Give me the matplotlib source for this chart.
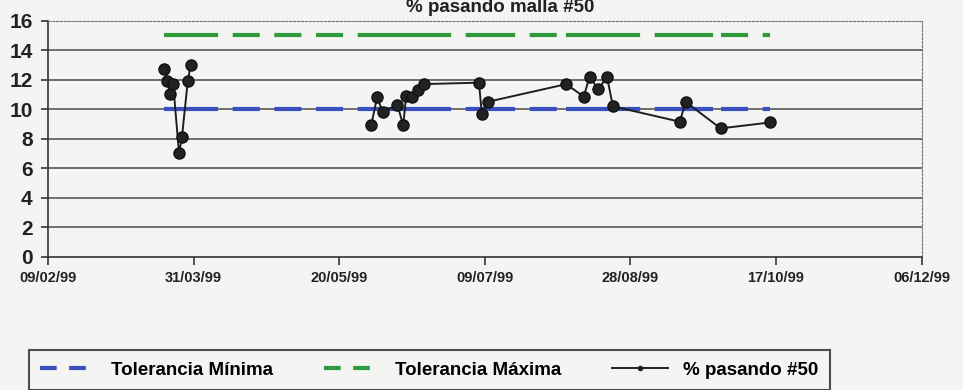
import matplotlib
matplotlib.use("Agg")
import matplotlib.pyplot as plt
import matplotlib.dates as mdates
from matplotlib.lines import Line2D
import datetime as dt

# ---- data ----
dates_str = ["1999-03-21", "1999-03-22", "1999-03-23", "1999-03-24", "1999-03-26",
             "1999-03-27", "1999-03-29", "1999-03-30",
             "1999-05-31", "1999-06-02", "1999-06-04", "1999-06-09", "1999-06-11",
             "1999-06-12", "1999-06-14", "1999-06-16", "1999-06-18",
             "1999-07-07", "1999-07-08", "1999-07-10",
             "1999-08-06", "1999-08-12", "1999-08-14", "1999-08-17", "1999-08-20",
             "1999-08-22", "1999-09-14", "1999-09-16", "1999-09-28", "1999-10-15"]
pasando = [12.7, 11.9, 11.0, 11.7, 7.0, 8.1, 11.9, 13.0,
           8.9, 10.8, 9.8, 10.3, 8.9, 10.9, 10.8, 11.3, 11.7,
           11.8, 9.7, 10.5,
           11.7, 10.85, 12.2, 11.35, 12.2, 10.2, 9.15, 10.5, 8.7, 9.1]
tol_min = [10] * len(dates_str)
tol_max = [15] * len(dates_str)
# index where the measured series is interrupted (no line across the gap)
series_break = 8
title = "% pasando malla #50"
legend_labels = ["Tolerancia Mínima", "Tolerancia Máxima", "% pasando #50"]
x_start, x_end = "1999-02-09", "1999-12-06"

dates = [dt.datetime.strptime(s, "%Y-%m-%d") for s in dates_str]
xs = dt.datetime.strptime(x_start, "%Y-%m-%d")
xe = dt.datetime.strptime(x_end, "%Y-%m-%d")

W, H = 963, 390
bg = "#f4f4f2"
fig = plt.figure(figsize=(W / 100, H / 100), dpi=100, facecolor=bg)
L, R, T, B = 48, 921.5, 20.7, 256.7
ax = fig.add_axes([L / W, 1 - B / H, (R - L) / W, (B - T) / H], facecolor=bg)

font = "Liberation Sans"

# tolerance lines drawn segment by segment (dash pattern restarts at each point)
for i in range(len(dates) - 1):
    ax.plot(dates[i:i + 2], tol_min[i:i + 2], color="#3a4fc0", lw=3,
            dashes=(6.5, 3.5), solid_capstyle="butt", dash_capstyle="butt", zorder=2)
    ax.plot(dates[i:i + 2], tol_max[i:i + 2], color="#2f9a3c", lw=3,
            dashes=(6.5, 3.5), solid_capstyle="butt", dash_capstyle="butt", zorder=2)

for a, b in [(0, series_break), (series_break, len(dates))]:
    ax.plot(dates[a:b], pasando[a:b], color="#1e1e1e", lw=1.4, marker="o", ms=8,
            mfc="#222222", mec="#111111", zorder=3)

ax.set_xlim(xs, xe)
ax.set_ylim(0, 16)
ax.set_yticks(range(0, 17, 2))
ticks = [xs + dt.timedelta(days=50 * k) for k in range(7)]
ax.set_xticks(ticks)
ax.xaxis.set_major_formatter(mdates.DateFormatter("%d/%m/%y"))

for y in range(2, 16, 2):
    ax.axhline(y, color="#4a4a4a", lw=1.1, zorder=1)

for s in ["top", "right"]:
    ax.spines[s].set_linestyle((0, (2, 1.5)))
    ax.spines[s].set_color("#777777")
    ax.spines[s].set_linewidth(0.8)
for s in ["left", "bottom"]:
    ax.spines[s].set_color("#333333")
    ax.spines[s].set_linewidth(1.2)

ax.tick_params(axis="y", direction="out", length=5, width=1.2, color="#333333", pad=6)
ax.tick_params(axis="x", direction="out", length=6, width=1.2, color="#333333", pad=4)
for lab in ax.get_yticklabels():
    lab.set_fontfamily(font)
    lab.set_fontweight("bold")
    lab.set_fontsize(15)
    lab.set_color("#222222")
for lab in ax.get_xticklabels():
    lab.set_fontfamily(font)
    lab.set_fontweight("bold")
    lab.set_fontsize(10.5)
    lab.set_color("#222222")

fig.text(500 / W, 1 - 8 / H, title, ha="center", va="center", fontsize=13.5,
         fontweight="bold", family=font, color="#222222")

handles = [
    Line2D([], [], color="#3a4fc0", lw=3, dashes=(4, 3)),
    Line2D([], [], color="#2f9a3c", lw=3, dashes=(4, 3)),
    Line2D([], [], color="#222222", lw=1.4, marker="o", ms=3),
]
leg = fig.legend(handles, legend_labels, ncol=3, loc="center",
                 bbox_to_anchor=(429 / W, 1 - 370 / H),
                 frameon=True, fancybox=False, edgecolor="#222222",
                 facecolor=bg, handlelength=3, columnspacing=2.7, borderpad=0.6,
                 prop={"family": ["Liberation Sans Narrow", "Liberation Sans"],
                       "weight": "bold", "size": 13.5})
leg.get_frame().set_linewidth(1.5)

fig.savefig("out.png", dpi=100, facecolor=bg)
